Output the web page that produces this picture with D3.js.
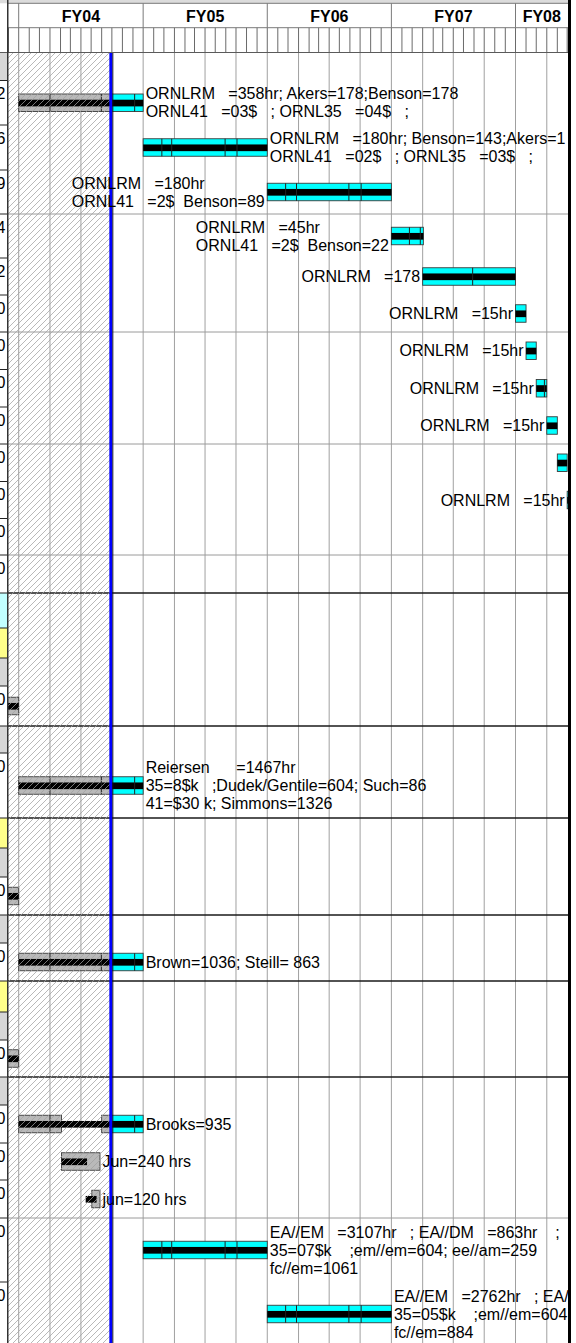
<!DOCTYPE html>
<html>
<head>
<meta charset="utf-8">
<script src="https://cdn.jsdelivr.net/npm/d3@7"></script>
<style>
  body { margin: 0; background: #fff; }
  svg { display: block; }
  text { font-family: "Liberation Sans", Arial, sans-serif; fill: #000; }
</style>
</head>
<body>
<div id="chart"></div>
<script>
// Gantt chart (cropped MS Project style view) drawn with D3

// ---------- Data ----------
const fiscalYears = ['FY03', 'FY04', 'FY05', 'FY06', 'FY07', 'FY08'];
const fyStarts    = ['2002-10-01', '2003-10-01', '2004-10-01', '2005-10-01', '2006-10-01', '2007-10-01'];

// holidays split the bars (thin dividers)
const holidays = ['2004-01-01', '2004-05-31', '2004-09-06', '2004-11-25', '2004-12-24', '2005-05-30',
                  '2005-07-04', '2005-11-24', '2005-12-26', '2006-05-29', '2006-07-04', '2006-11-23',
                  '2006-12-25', '2007-05-28', '2007-12-25'];

const statusDate   = '2004-06-28';   // blue line
const progressDate = '2004-07-01';   // bars are grey before this date

// table rows (left strip): fill kind, row height, visible last digit, rule drawn on top of row
const rowFill   = ['g','w','w','w','w','w','w','w','w','w','w','w','w','w','c','y','g','w','g','w',
                   'y','g','w','g','w','y','g','w','g','w','w','w','w','w'];
const rowHeight = [28, 44.5, 45, 44, 44, 37, 37, 37.5, 37.5, 37, 37.5, 37, 36.5, 38, 35, 30, 28, 40, 27, 65,
                   30, 29, 38, 28, 38, 31, 28, 37, 28, 38, 37, 38, 64, 64];
const rowDigit  = ['','2','6','9','4','2','0','0','0','0','0','0','0','0','','','','0','','0',
                   '','','0','','0','','','0','','0','0','0','0','0'];
const rowRule   = ['','','','','g','','','g','','','g','','','g','k','','','','k','',
                   'k','','','k','','k','','','k','','','','g',''];

// tasks
const taskRow = [1, 2, 3, 4, 5, 6, 7, 8, 9, 10, 11, 17, 19, 22, 24, 27, 29, 30, 31, 32, 33];
const taskPieces = [
  [['2003-10-01', '2004-10-01']],
  [['2004-10-01', '2005-10-01']],
  [['2005-10-01', '2006-10-01']],
  [['2006-10-01', '2007-01-03']],
  [['2007-01-01', '2007-10-01']],
  [['2007-10-01', '2007-11-01']],
  [['2007-11-01', '2007-12-01']],
  [['2007-12-01', '2008-01-01']],
  [['2008-01-01', '2008-02-01']],
  [['2008-02-01', '2008-03-01']],
  [['2008-03-01', '2008-04-01']],
  [['2003-08-01', '2003-10-01']],
  [['2003-10-01', '2004-10-01']],
  [['2003-08-01', '2003-10-01']],
  [['2003-10-01', '2004-10-01']],
  [['2003-08-01', '2003-10-01']],
  [['2003-10-01', '2004-02-04'], ['2004-06-01', '2004-10-01']],
  [['2004-02-04', '2004-05-27']],
  [['2004-05-03', '2004-05-27']],
  [['2004-10-01', '2005-10-01']],
  [['2005-10-01', '2006-10-01']]
];
const taskBand = [
  ['2003-10-01', '2004-10-01'], ['2004-10-01', '2005-10-01'], ['2005-10-01', '2006-10-01'],
  ['2006-10-01', '2007-01-03'], ['2007-01-01', '2007-10-01'], ['2007-10-01', '2007-11-01'],
  ['2007-11-01', '2007-12-01'], ['2007-12-01', '2008-01-01'], ['2008-01-01', '2008-02-01'],
  ['2008-02-01', '2008-03-01'], ['2008-03-01', '2008-04-01'], ['2003-08-01', '2003-10-01'],
  ['2003-10-01', '2004-10-01'], ['2003-08-01', '2003-10-01'], ['2003-10-01', '2004-10-01'],
  ['2003-08-01', '2003-10-01'], ['2003-10-01', '2004-10-01'], ['2004-02-04', '2004-04-19'],
  ['2004-04-15', '2004-05-17'], ['2004-10-01', '2005-10-01'], ['2005-10-01', '2006-10-01']
];
const taskLabel = [
  ['ORNLRM   =358hr; Akers=178;Benson=178', 'ORNL41   =03$   ; ORNL35   =04$   ;'],
  ['ORNLRM   =180hr; Benson=143;Akers=1', 'ORNL41   =02$   ; ORNL35   =03$   ;'],
  ['ORNLRM   =180hr', 'ORNL41   =2$  Benson=89'],
  ['ORNLRM   =45hr', 'ORNL41   =2$  Benson=22'],
  ['ORNLRM   =178'],
  ['ORNLRM   =15hr'], ['ORNLRM   =15hr'], ['ORNLRM   =15hr'], ['ORNLRM   =15hr'],
  [],
  ['ORNLRM   =15hr'],
  [],
  ['Reiersen      =1467hr', '35=8$k   ;Dudek/Gentile=604; Such=86', '41=$30 k; Simmons=1326'],
  [],
  ['Brown=1036; Steill= 863'],
  [],
  ['Brooks=935'],
  ['Jun=240 hrs'],
  ['jun=120 hrs'],
  ['EA//EM   =3107hr   ; EA//DM   =863hr    ;', '35=07$k    ;em//em=604; ee//am=259', 'fc//em=1061'],
  ['EA//EM   =2762hr   ; EA//DM', '35=05$k    ;em//em=604;', 'fc//em=884']
];
const taskSide = ['r','r','l','l','l','l','l','l','l','l','l','r','r','r','r','r','r','r','r','r','r'];

// ---------- Layout ----------
const W = 576, H = 1343;
const leftEdge = 8, rightEdge = 568;
const headTop = 3.3, fyBottom = 27.7, headBottom = 52.5;
const fill = { g: '#d6d6d6', w: '#ffffff', c: '#c2ffff', y: '#ffff8a' };
const parse = d3.utcParse('%Y-%m-%d');

const x = d3.scaleUtc()
  .domain([parse('2003-10-01'), parse('2007-10-01')])
  .range([18.7, 515.5]);

const rowTop = [headBottom, ...d3.cumsum(rowHeight).map(v => headBottom + v)];
const rowMid = i => rowTop[i] + rowHeight[i] / 2;

const svg = d3.select('#chart').append('svg')
  .attr('width', W).attr('height', H);

const defs = svg.append('defs');
defs.append('clipPath').attr('id', 'bodyClip')
  .append('rect').attr('x', leftEdge).attr('y', headBottom)
  .attr('width', rightEdge - leftEdge).attr('height', H - headBottom);
defs.append('clipPath').attr('id', 'headClip')
  .append('rect').attr('x', leftEdge).attr('y', 0)
  .attr('width', rightEdge - leftEdge).attr('height', headBottom);

const hs = 6;
const hatch = defs.append('pattern').attr('id', 'hatch')
  .attr('patternUnits', 'userSpaceOnUse').attr('width', hs).attr('height', hs);
hatch.append('path')
  .attr('d', `M0,${hs} L${hs},0 M-1,1 L1,-1 M${hs - 1},${hs + 1} L${hs + 1},${hs - 1}`)
  .attr('stroke', '#a2a2a2').attr('stroke-width', 0.75);

svg.append('rect').attr('width', W).attr('height', H).attr('fill', '#fff');

// ---------- Left table strip ----------
const strip = svg.append('g');
strip.selectAll('rect').data(rowFill).join('rect')
  .attr('x', 0).attr('width', leftEdge)
  .attr('y', (d, i) => rowTop[i]).attr('height', (d, i) => rowHeight[i])
  .attr('fill', d => fill[d]);
strip.selectAll('line').data(rowTop).join('line')
  .attr('x1', 0).attr('x2', leftEdge)
  .attr('y1', d => d).attr('y2', d => d)
  .attr('stroke', '#222').attr('stroke-width', 1);
strip.selectAll('text').data(rowDigit).join('text')
  .attr('x', 5.5).attr('y', (d, i) => rowTop[i] + 13)
  .attr('dy', '0.35em').attr('text-anchor', 'end')
  .attr('font-size', 16).text(d => d);

// ---------- Body grid ----------
const body = svg.append('g').attr('clip-path', 'url(#bodyClip)');
const quarters = d3.utcMonth.every(3).range(parse('2003-07-01'), parse('2008-07-01'));
body.append('g').selectAll('line').data(quarters).join('line')
  .attr('x1', d => x(d)).attr('x2', d => x(d))
  .attr('y1', headBottom).attr('y2', H)
  .attr('stroke', '#a0a0a0').attr('stroke-width', 1);

const rules = rowRule.map((r, i) => ({ r, y: rowTop[i] })).filter(d => d.r);
body.append('g').selectAll('line').data(rules).join('line')
  .attr('x1', leftEdge).attr('x2', rightEdge)
  .attr('y1', d => d.y).attr('y2', d => d.y)
  .attr('stroke', d => d.r === 'k' ? '#1a1a1a' : '#9a9a9a')
  .attr('stroke-width', d => d.r === 'k' ? 1.3 : 1);

// ---------- Bars ----------
const pDate = parse(progressDate);
const holidayDates = holidays.map(parse);
const tasks = taskRow.map((row, i) => {
  const pieces = [];
  taskPieces[i].forEach(([s, e]) => {
    const S = parse(s), E = parse(e);
    if (S < pDate) pieces.push({ s: S, e: E < pDate ? E : pDate, c: '#b9b9b9' });
    if (E > pDate) pieces.push({ s: S > pDate ? S : pDate, e: E, c: '#00ffff' });
  });
  return {
    row, pieces,
    band: taskBand[i].map(parse),
    label: taskLabel[i],
    side: taskSide[i]
  };
});

const barH = 17.5, bandH = 6.7;
const tg = body.selectAll('g.task').data(tasks).join('g')
  .attr('class', 'task')
  .attr('transform', d => `translate(0,${rowMid(d.row)})`);

tg.selectAll('rect.piece').data(d => d.pieces).join('rect')
  .attr('class', 'piece')
  .attr('x', d => x(d.s)).attr('width', d => x(d.e) - x(d.s))
  .attr('y', -barH / 2).attr('height', barH)
  .attr('fill', d => d.c).attr('stroke', '#3a3a3a').attr('stroke-width', 0.9);

tg.append('rect')
  .attr('x', d => x(d.band[0])).attr('width', d => x(d.band[1]) - x(d.band[0]))
  .attr('y', -bandH / 2 + 0.3).attr('height', bandH)
  .attr('fill', '#000');

tg.selectAll('line.div')
  .data(d => holidayDates.filter(h => d.pieces.some(p => h > p.s && h < p.e)))
  .join('line').attr('class', 'div')
  .attr('x1', d => x(d)).attr('x2', d => x(d))
  .attr('y1', -barH / 2).attr('y2', barH / 2)
  .attr('stroke', '#222').attr('stroke-width', 1);

// ---------- Past hatch + status line ----------
const sx = x(parse(statusDate));
svg.append('rect')
  .attr('x', leftEdge).attr('y', headBottom)
  .attr('width', sx - leftEdge).attr('height', H - headBottom)
  .attr('fill', 'url(#hatch)');
svg.append('rect')
  .attr('x', sx - 1.5).attr('y', headBottom).attr('width', 3).attr('height', H - headBottom)
  .attr('fill', '#0000ff');
svg.append('line')
  .attr('x1', sx + 2).attr('x2', sx + 2).attr('y1', headBottom).attr('y2', H)
  .attr('stroke', '#111').attr('stroke-width', 0.9);

// ---------- Bar labels ----------
const labels = svg.append('g').attr('clip-path', 'url(#bodyClip)')
  .selectAll('g').data(tasks.filter(d => d.label.length)).join('g');
labels.each(function (d) {
  const g = d3.select(this);
  const lh = 18;
  const y0 = rowMid(d.row) - (d.label.length - 1) * lh / 2;
  const t = g.selectAll('text').data(d.label).join('text')
    .attr('font-size', 16)
    .attr('xml:space', 'preserve')
    .style('white-space', 'pre')
    .attr('y', (s, k) => y0 + k * lh)
    .attr('dy', '0.35em')
    .text(s => s);
  let left;
  if (d.side === 'r') {
    const lastEnd = d.pieces[d.pieces.length - 1].e;
    left = x(d.band[1] > lastEnd ? d.band[1] : lastEnd) + 2.5;
  } else {
    const maxW = d3.max(t.nodes(), n => n.getComputedTextLength());
    left = x(d.pieces[0].s) - 2.5 - maxW;
  }
  t.attr('x', left);
});

// ---------- Header ----------
const head = svg.append('g');
head.append('rect').attr('x', 0).attr('y', 0).attr('width', W).attr('height', headTop)
  .attr('fill', '#dcdcdc');
const headIn = head.append('g').attr('clip-path', 'url(#headClip)');
[headTop, fyBottom].forEach(y => {
  head.append('line').attr('x1', leftEdge).attr('x2', rightEdge)
    .attr('y1', y).attr('y2', y).attr('stroke', '#7a7a7a').attr('stroke-width', 1);
});
head.append('line').attr('x1', 0).attr('x2', rightEdge)
  .attr('y1', headBottom).attr('y2', headBottom)
  .attr('stroke', '#5a5a5a').attr('stroke-width', 1.2);

const fyDates = fyStarts.map(parse);
headIn.selectAll('line.fy').data(fyDates).join('line').attr('class', 'fy')
  .attr('x1', d => x(d)).attr('x2', d => x(d))
  .attr('y1', headTop).attr('y2', fyBottom)
  .attr('stroke', '#7a7a7a').attr('stroke-width', 1);
headIn.selectAll('text.fy').data(fiscalYears).join('text').attr('class', 'fy')
  .attr('x', (d, i) => {
    const s = Math.max(x(fyDates[i]), leftEdge);
    const e = Math.min(x(d3.utcYear.offset(fyDates[i], 1)), rightEdge);
    return (s + e) / 2;
  })
  .attr('y', (headTop + fyBottom) / 2 + 0.5)
  .attr('dy', '0.35em').attr('text-anchor', 'middle')
  .attr('font-size', 16).attr('font-weight', 'bold')
  .text((d, i) => x(fyDates[i]) < leftEdge ? '' : d);

const months = d3.utcMonth.range(parse('2003-09-01'), parse('2008-05-01'));
headIn.selectAll('line.m').data(months).join('line').attr('class', 'm')
  .attr('x1', d => x(d)).attr('x2', d => x(d))
  .attr('y1', fyBottom).attr('y2', headBottom)
  .attr('stroke', '#6a6a6a').attr('stroke-width', 1);

// ---------- Frame ----------
svg.append('line')
  .attr('x1', leftEdge - 0.25).attr('x2', leftEdge - 0.25).attr('y1', 0).attr('y2', H)
  .attr('stroke', '#333').attr('stroke-width', 1.5);
svg.append('rect')
  .attr('x', rightEdge).attr('y', 0).attr('width', W - rightEdge).attr('height', H)
  .attr('fill', '#fff');
svg.append('rect')
  .attr('x', rightEdge).attr('y', 0).attr('width', 3).attr('height', H)
  .attr('fill', '#000');
</script>
</body>
</html>
